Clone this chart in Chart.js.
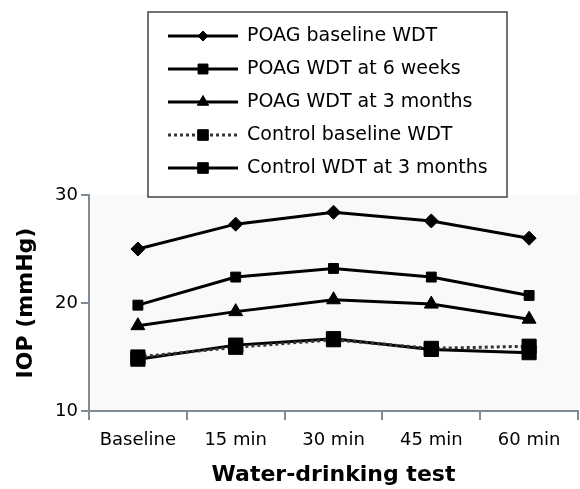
<!DOCTYPE html>
<html>
<head>
<meta charset="utf-8">
<script src="https://cdn.jsdelivr.net/npm/chart.js@4/dist/chart.umd.min.js"></script>
<style>
    html, body { margin: 0; padding: 0; background: #ffffff; }
    #wrap { width: 580px; height: 489px; }
</style>
</head>
<body>
<div id="wrap"><canvas id="chart" width="580" height="489"></canvas></div>
<script>
// time points of the water-drinking test
const timePoints = ['Baseline', '15 min', '30 min', '45 min', '60 min'];

// IOP values (mmHg)
const poagBaseline = [25.0, 27.3, 28.4, 27.6, 26.0];
const poagSixWeeks = [19.8, 22.4, 23.2, 22.4, 20.7];
const poagThreeMonths = [17.9, 19.2, 20.3, 19.9, 18.5];
const controlBaseline = [15.0, 15.9, 16.6, 15.8, 16.0];
const controlThreeMonths = [14.8, 16.1, 16.7, 15.7, 15.4];

const seriesNames = [
    'POAG baseline WDT',
    'POAG WDT at 6 weeks',
    'POAG WDT at 3 months',
    'Control baseline WDT',
    'Control WDT at 3 months'
];
const yTicks = [10, 20, 30];

const FONT = 'DejaVu Sans';
const AXIS_COLOR = '#7f8c98';

// background of the plot area
const plotBackground = {
    id: 'plotBackground',
    beforeDraw(chart) {
        const { ctx, chartArea } = chart;
        ctx.save();
        ctx.fillStyle = '#f9f9f9';
        ctx.fillRect(chartArea.left, chartArea.top, chartArea.right - chartArea.left, chartArea.bottom - chartArea.top);
        ctx.restore();
    }
};

// boxed legend that sits above the plot
const boxLegend = {
    id: 'boxLegend',
    afterDraw(chart) {
        const ctx = chart.ctx;
        const box = { x: 148, y: 12, w: 359, h: 185 };
        const legendRadius = [5, 7, 6.5, 7.5, 7.5];
        ctx.save();
        ctx.fillStyle = '#ffffff';
        ctx.fillRect(box.x, box.y, box.w, box.h);
        ctx.strokeStyle = '#444444';
        ctx.lineWidth = 1.5;
        ctx.strokeRect(box.x, box.y, box.w, box.h);

        chart.data.datasets.forEach((ds, i) => {
            const y = 36 + i * 33;
            ctx.save();
            ctx.strokeStyle = ds.borderColor;
            ctx.lineWidth = ds.borderWidth;
            ctx.setLineDash(ds.borderDash || []);
            ctx.beginPath();
            ctx.moveTo(168, y);
            ctx.lineTo(238, y);
            ctx.stroke();
            ctx.restore();

            ctx.fillStyle = '#000000';
            ctx.strokeStyle = '#000000';
            ctx.lineWidth = 1;
            ctx.setLineDash([]);
            Chart.helpers.drawPoint(ctx, {
                pointStyle: ds.pointStyle,
                rotation: 0,
                radius: legendRadius[i],
                borderWidth: 1
            }, 203, y);

            ctx.fillStyle = '#000000';
            ctx.font = '19px "' + FONT + '"';
            ctx.textAlign = 'left';
            ctx.textBaseline = 'middle';
            ctx.fillText(ds.label, 247, y);
        });
        ctx.restore();
    }
};

function lineSeries(label, data, style, radius, dash, color) {
    return {
        label: label,
        data: data,
        borderColor: color,
        borderWidth: 3,
        borderDash: dash,
        pointStyle: style,
        pointRadius: radius,
        pointBackgroundColor: '#000000',
        pointBorderColor: '#000000',
        pointBorderWidth: 1,
        tension: 0,
        fill: false
    };
}

new Chart(document.getElementById('chart'), {
    type: 'line',
    data: {
        labels: timePoints,
        datasets: [
            lineSeries(seriesNames[0], poagBaseline, 'rectRot', 7, [], '#000000'),
            lineSeries(seriesNames[1], poagSixWeeks, 'rect', 7, [], '#000000'),
            lineSeries(seriesNames[2], poagThreeMonths, 'triangle', 8, [], '#000000'),
            lineSeries(seriesNames[3], controlBaseline, 'rect', 10, [3, 3], '#333333'),
            lineSeries(seriesNames[4], controlThreeMonths, 'rect', 10, [], '#000000')
        ]
    },
    options: {
        responsive: false,
        animation: false,
        devicePixelRatio: 1,
        layout: {
            autoPadding: false,
            padding: { top: 195, right: 2, bottom: 0, left: 0 }
        },
        plugins: {
            legend: { display: false },
            tooltip: { enabled: false }
        },
        scales: {
            x: {
                type: 'category',
                offset: true,
                grid: {
                    offset: true,
                    drawOnChartArea: false,
                    drawTicks: true,
                    tickLength: 9,
                    color: AXIS_COLOR,
                    lineWidth: 2
                },
                border: { display: true, color: AXIS_COLOR, width: 2 },
                ticks: {
                    color: '#000000',
                    padding: 0,
                    maxRotation: 0,
                    font: { family: FONT, size: 18, lineHeight: 2.25 }
                },
                title: {
                    display: true,
                    text: 'Water-drinking test',
                    color: '#000000',
                    padding: { top: 0, bottom: 1 },
                    font: { family: FONT, size: 22, weight: 'bold' }
                },
                afterFit(scale) {
                    scale.height = 78;
                    scale.paddingLeft = 0;
                    scale.paddingRight = 0;
                }
            },
            y: {
                min: 10,
                max: 30,
                afterBuildTicks(scale) {
                    scale.ticks = yTicks.map(v => ({ value: v }));
                },
                grid: {
                    drawOnChartArea: false,
                    drawTicks: true,
                    tickLength: 8,
                    color: AXIS_COLOR,
                    lineWidth: 2
                },
                border: { display: true, color: AXIS_COLOR, width: 2 },
                ticks: {
                    color: '#000000',
                    padding: 3,
                    font: { family: FONT, size: 18 }
                },
                title: {
                    display: true,
                    text: 'IOP (mmHg)',
                    color: '#000000',
                    padding: { top: 13, bottom: 0 },
                    font: { family: FONT, size: 22, weight: 'bold' }
                },
                afterFit(scale) { scale.width = 89; }
            }
        }
    },
    plugins: [plotBackground, boxLegend]
});
</script>
</body>
</html>
